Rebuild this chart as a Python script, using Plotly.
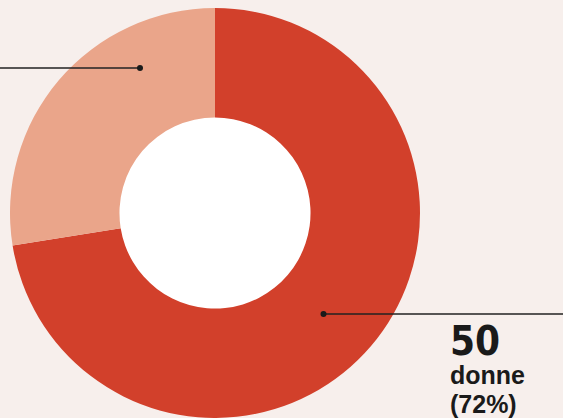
import plotly.graph_objects as go

W, H = 563, 418
categories = ["donne", "uomini"]
values = [50, 19]
colors = ["#d2402b", "#eaa58a"]
label_number = "50"
label_word = "donne"
label_pct = "(72%)"

BG = "#f7efec"
HOLE = 0.466
DOM_X = [8 / W, 422 / W]
DOM_Y = [0, 410 / H]

fig = go.Figure()
fig.add_trace(go.Pie(
    labels=categories, values=values, hole=HOLE, sort=False,
    direction="clockwise", rotation=0,
    marker=dict(colors=colors, line=dict(width=0)),
    textinfo="none", hoverinfo="label+value+percent", showlegend=False,
    domain=dict(x=DOM_X, y=DOM_Y),
))

def px(x):
    return x / W

def py(y):
    return 1 - y / H

# white centre of the donut (pie hole is transparent)
cx = (DOM_X[0] + DOM_X[1]) / 2 * W
cy_from_bottom = (DOM_Y[0] + DOM_Y[1]) / 2 * H
r_out = min((DOM_X[1] - DOM_X[0]) * W, (DOM_Y[1] - DOM_Y[0]) * H) / 2
r_in = r_out * HOLE + 1
cy = H - cy_from_bottom

shapes = []
shapes.append(dict(type="circle", xref="paper", yref="paper", layer="below",
                   x0=px(cx - r_in), x1=px(cx + r_in),
                   y0=py(cy + r_in), y1=py(cy - r_in),
                   fillcolor="#ffffff", line=dict(width=0)))
# leader line for big slice
shapes.append(dict(type="line", xref="paper", yref="paper",
                   x0=px(323.5), y0=py(314), x1=px(W), y1=py(314),
                   line=dict(color="#222222", width=1.5)))
shapes.append(dict(type="circle", xref="paper", yref="paper",
                   x0=px(320.5), y0=py(311), x1=px(326.5), y1=py(317),
                   fillcolor="#1a1a1a", line=dict(width=0)))
# leader line for small slice
shapes.append(dict(type="line", xref="paper", yref="paper",
                   x0=px(0), y0=py(68), x1=px(140), y1=py(68),
                   line=dict(color="#222222", width=1.5)))
shapes.append(dict(type="circle", xref="paper", yref="paper",
                   x0=px(137), y0=py(65), x1=px(143), y1=py(71),
                   fillcolor="#1a1a1a", line=dict(width=0)))

ann = []
ann.append(dict(text=label_number, xref="paper", yref="paper",
                x=px(448), y=py(366), xanchor="left", yanchor="bottom",
                showarrow=False,
                font=dict(family="Liberation Sans Narrow, DejaVu Sans Condensed, Roboto, sans-serif",
                          size=40, color="#1a1a1a", weight=900)))
ann.append(dict(text="<b>" + label_word + "</b>", xref="paper", yref="paper",
                x=px(448), y=py(391), xanchor="left", yanchor="bottom",
                showarrow=False,
                font=dict(family="Liberation Sans, Arial, sans-serif",
                          size=25, color="#1a1a1a")))
ann.append(dict(text="<b>" + label_pct + "</b>", xref="paper", yref="paper",
                x=px(448), y=py(420), xanchor="left", yanchor="bottom",
                showarrow=False,
                font=dict(family="Liberation Sans, Arial, sans-serif",
                          size=25, color="#1a1a1a")))

fig.update_layout(
    width=W, height=H, margin=dict(l=0, r=0, t=0, b=0),
    paper_bgcolor=BG, plot_bgcolor=BG,
    shapes=shapes, annotations=ann,
)
fig.write_html("out.html")
